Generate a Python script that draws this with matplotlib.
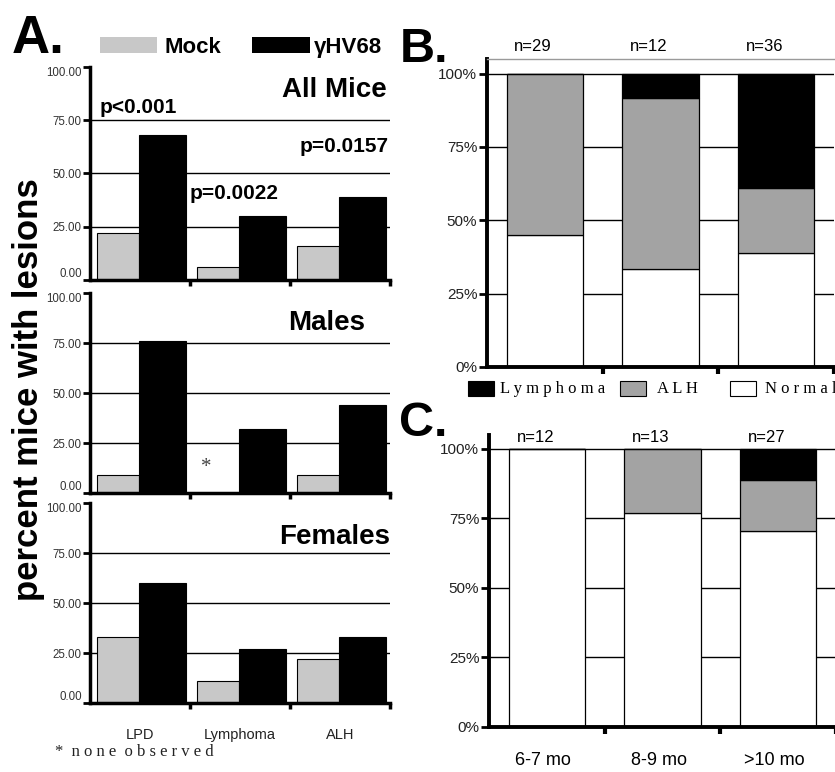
import numpy as np
import matplotlib
matplotlib.use("Agg")
import matplotlib.pyplot as plt
from matplotlib import font_manager
from matplotlib.patches import Rectangle

# ---- data ----
categories = ["LPD", "Lymphoma", "ALH"]
all_mock = [22, 6, 16]
all_hv68 = [68, 30, 39]
male_mock = [9, 0, 9]
male_hv68 = [76, 32, 44]
female_mock = [33, 11, 22]
female_hv68 = [60, 27, 33]

b_n = ["n=29", "n=12", "n=36"]
b_normal = [45.0, 33.3, 38.9]
b_alh = [55.0, 58.3, 22.2]
b_lymphoma = [0.0, 8.4, 38.9]

c_ages = ["6-7 mo", "8-9 mo", ">10 mo"]
c_n = ["n=12", "n=13", "n=27"]
c_normal = [100.0, 76.9, 70.4]
c_alh = [0.0, 23.1, 18.5]
c_lymphoma = [0.0, 0.0, 11.1]

MOCK_GRAY = "#c8c8c8"
ALH_GRAY = "#a3a3a3"

names = {f.name for f in font_manager.fontManager.ttflist}
NARROW = "Liberation Sans Narrow" if "Liberation Sans Narrow" in names else "Liberation Sans"
plt.rcParams["font.family"] = ["Liberation Sans", "DejaVu Sans"]

W, H = 835, 772
fig = plt.figure(figsize=(W / 100, H / 100), dpi=100)


def px_axes(x0, y0, x1, y1):
    return fig.add_axes([x0 / W, 1 - y1 / H, (x1 - x0) / W, (y1 - y0) / H])


def draw_a(ax, mock, hv, title, title_y, title_x=2.97, show_x=False):
    x = np.arange(3)
    ax.bar(x + 0.07, mock, width=0.42, align="edge", color=MOCK_GRAY,
           edgecolor="black", lw=0.8, zorder=2)
    ax.bar(x + 0.49, hv, width=0.47, align="edge", color="black",
           edgecolor="black", lw=0.8, zorder=2)
    for g in (25, 50, 75):
        ax.axhline(g, color="black", lw=1, zorder=1)
    ax.set_xlim(0, 3)
    ax.set_ylim(0, 100)
    ax.set_yticks([0, 25, 50, 75, 100])
    ax.set_yticklabels([f"{v:.2f}" for v in [0, 25, 50, 75, 100]],
                       fontsize=8.3, color="#333333")
    # keep end labels of stacked panels from colliding
    labels = ax.get_yticklabels()
    labels[0].set_verticalalignment("bottom")
    labels[-1].set_verticalalignment("top")
    ax.set_xticks([1, 2, 3])
    ax.set_xticklabels([])
    ax.tick_params(axis="y", direction="out", length=5, width=2, pad=1)
    ax.tick_params(axis="x", direction="out", length=4, width=2.5)
    for s in ("top", "right"):
        ax.spines[s].set_visible(False)
    for s in ("left", "bottom"):
        ax.spines[s].set_linewidth(2.5)
    ax.text(title_x, title_y, title, ha="right", va="center",
            fontsize=20, weight="bold")
    if show_x:
        for i, c in enumerate(categories):
            ax.text(i + 0.5, -16, c, ha="center", va="center", fontsize=10.5,
                    color="#222222")
    ax.patch.set_alpha(0)


# ---- panel A ----
ax1 = px_axes(90, 67, 390, 280)
draw_a(ax1, all_mock, all_hv68, "All Mice", 89)
ax1.text(0.1, 80.8, "p<0.001", ha="left", va="center", fontsize=15, weight="bold")
ax1.text(1.0, 40.8, "p=0.0022", ha="left", va="center", fontsize=15, weight="bold")
ax1.text(2.99, 62.9, "p=0.0157", ha="right", va="center", fontsize=15, weight="bold")

ax2 = px_axes(90, 293, 390, 493)
draw_a(ax2, male_mock, male_hv68, "Males", 85, title_x=2.75)
ax2.text(1.16, 13, "*", ha="center", va="center", fontsize=15,
         family="Liberation Serif", color="#444444")

ax3 = px_axes(90, 503, 390, 703)
draw_a(ax3, female_mock, female_hv68, "Females", 83, title_x=3.0, show_x=True)

fig.text(29 / W, 1 - 390 / H, "percent mice with lesions", rotation=90,
         ha="center", va="center", fontsize=25, weight="bold")
fig.text(55 / W, 1 - 752 / H, "*  n o n e  o b s e r v e d", ha="left",
         va="center", fontsize=12, family="Liberation Serif", color="#222222")

fig.text(12 / W, 1 - 53 / H, "A.", fontsize=38, weight="bold", va="baseline")
fig.patches.append(Rectangle((100 / W, 1 - 53 / H), 57 / W, 16 / H,
                             transform=fig.transFigure, facecolor=MOCK_GRAY,
                             edgecolor="none"))
fig.text(165 / W, 1 - 53 / H, "Mock", fontsize=16, weight="bold", va="baseline")
fig.patches.append(Rectangle((252 / W, 1 - 53 / H), 58 / W, 16 / H,
                             transform=fig.transFigure, facecolor="black",
                             edgecolor="none"))
fig.text(314 / W, 1 - 53 / H, "γHV68", fontsize=16, weight="bold", va="baseline")


# ---- panels B and C ----
def draw_stack(ax, normal, alh, lym, nlabels, n_y):
    x = np.arange(3) + 0.5
    normal = np.array(normal)
    alh = np.array(alh)
    lym = np.array(lym)
    ax.bar(x, normal, width=0.66, color="white", edgecolor="black", lw=0.9, zorder=2)
    ax.bar(x, alh, bottom=normal, width=0.66, color=ALH_GRAY,
           edgecolor="black", lw=0.9, zorder=2)
    ax.bar(x, lym, bottom=normal + alh, width=0.66, color="black",
           edgecolor="black", lw=0.9, zorder=2)
    for g in (25, 50, 75, 100):
        ax.axhline(g, color="black", lw=1, zorder=1)
    ax.set_xlim(0, 3)
    ax.set_ylim(0, 105)
    ax.set_yticks([0, 25, 50, 75, 100])
    ax.set_yticklabels(["0%", "25%", "50%", "75%", "100%"], fontsize=11,
                       family=NARROW, color="#222222")
    ax.set_xticks([1, 2, 3])
    ax.set_xticklabels([])
    ax.tick_params(axis="y", direction="out", length=6, width=2, pad=1)
    ax.tick_params(axis="x", direction="out", length=5, width=3)
    ax.spines["right"].set_visible(False)
    for s in ("left", "bottom"):
        ax.spines[s].set_linewidth(2.8)
    for i, n in enumerate(nlabels):
        ax.text(i + 0.4, n_y, n, ha="center", va="center", fontsize=12,
                family=NARROW, clip_on=False)


axb = px_axes(487, 59, 834, 367)
draw_stack(axb, b_normal, b_alh, b_lymphoma, b_n, 109.2)
axb.spines["top"].set_color("#9a9a9a")
axb.spines["top"].set_linewidth(1)
fig.text(400 / W, 1 - 62 / H, "B.", fontsize=35, weight="bold", va="baseline")

axc = px_axes(489, 435, 836, 727)
draw_stack(axc, c_normal, c_alh, c_lymphoma, c_n, 104)
axc.spines["top"].set_visible(False)
for i, a in enumerate(c_ages):
    axc.text(i + 0.47, -12, a, ha="center", va="center", fontsize=13,
             family=NARROW)
fig.text(399 / W, 1 - 436 / H, "C.", fontsize=35, weight="bold", va="baseline")

# legend for B / C
leg = [("black", "L y m p h o m a", 468, 500),
       (ALH_GRAY, "A L H", 620, 657),
       ("white", "N o r m a l", 730, 765)]
for color, label, bx, tx in leg:
    fig.patches.append(Rectangle((bx / W, 1 - 396 / H), 26 / W, 15 / H,
                                 transform=fig.transFigure, facecolor=color,
                                 edgecolor="black", lw=0.8))
    fig.text(tx / W, 1 - 389 / H, label, ha="left", va="center", fontsize=12,
             family="Liberation Serif")

fig.savefig("out.png", dpi=100)
